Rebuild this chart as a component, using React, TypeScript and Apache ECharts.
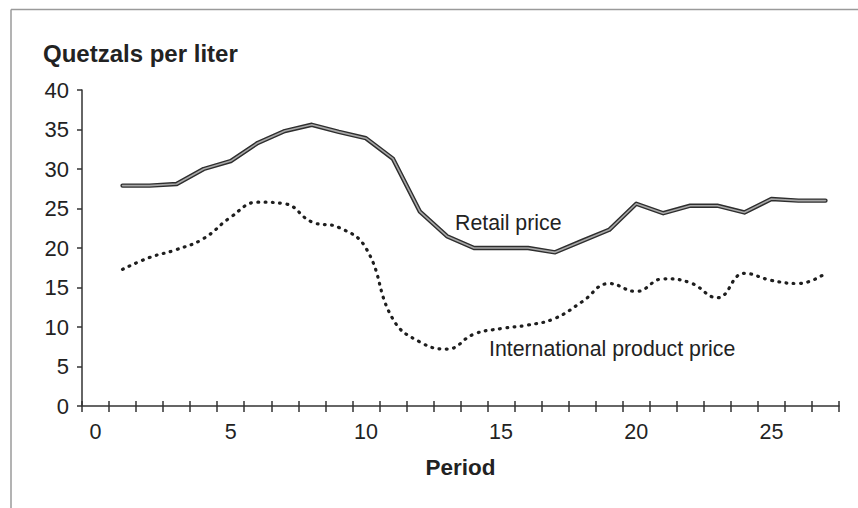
import React, { useEffect, useRef } from "react";
import * as echarts from "echarts";

const periods: string[] = Array.from({ length: 28 }, (_, i) => String(i));
const retailPrice: (number | null)[] = [
  null, 27.9, 27.9, 28.1, 30.0, 31.0, 33.3, 34.8, 35.6, 34.7, 33.9, 31.3, 24.6, 21.5,
  20.0, 20.0, 20.0, 19.45, 20.9, 22.3, 25.6, 24.4, 25.35, 25.35, 24.5, 26.2, 26.0, 26.0,
];
const internationalPrice: (number | null)[] = [
  null, 17.3, 18.8, 19.8, 21.2, 23.9, 25.8, 25.6, 23.3, 22.6, 20.0, 11.0, 8.1, 7.2,
  9.1, 9.8, 10.25, 11.1, 13.2, 15.5, 14.5, 16.1, 15.6, 13.7, 16.8, 15.9, 15.5, 16.8,
];
const yTitle = "Quetzals per liter";
const xTitle = "Period";
const retailLabel = "Retail price";
const intlLabel = "International product price";

const FONT = "'Liberation Sans', Arial, Helvetica, sans-serif";

export default function App() {
  const ref = useRef<HTMLDivElement>(null);
  useEffect(() => {
    if (!ref.current) return;
    const chart = echarts.init(ref.current, undefined, { renderer: "svg" });
    const axisColor = "#333";
    chart.setOption({
      animation: false,
      backgroundColor: "#fff",
      textStyle: { fontFamily: FONT },
      grid: { left: 82, right: 19, top: 90, bottom: 102 },
      xAxis: [
        {
          type: "category",
          data: periods,
          boundaryGap: true,
          position: "bottom",
          name: xTitle,
          nameLocation: "middle",
          nameGap: 50,
          nameTextStyle: { fontSize: 22.5, fontWeight: "bold", color: "#222", fontFamily: FONT },
          axisLine: { show: true, lineStyle: { color: axisColor, width: 1.5 } },
          axisTick: { show: true, interval: 0, length: 6, lineStyle: { color: axisColor, width: 1.5 } },
          axisLabel: { interval: 4, margin: 15, fontSize: 21.5, color: "#222", fontFamily: FONT },
          splitLine: { show: false },
        },
        {
          type: "category",
          data: periods,
          boundaryGap: true,
          position: "bottom",
          axisLine: { show: false },
          axisTick: { show: true, inside: true, interval: 0, length: 5, lineStyle: { color: axisColor, width: 1.5 } },
          axisLabel: { show: false },
          splitLine: { show: false },
        },
      ],
      yAxis: {
        type: "value",
        min: 0,
        max: 40,
        interval: 5,
        axisLine: { show: true, lineStyle: { color: axisColor, width: 1.5 } },
        axisTick: { show: true, length: 5, lineStyle: { color: axisColor, width: 1.5 } },
        axisLabel: { margin: 13, fontSize: 22, color: "#222", fontFamily: FONT },
        splitLine: { show: false },
      },
      graphic: [
        { type: "line", shape: { x1: 11, y1: 9.5, x2: 858, y2: 9.5 }, style: { stroke: "#9a9a9a", lineWidth: 1.5 } },
        { type: "line", shape: { x1: 11, y1: 9.5, x2: 11, y2: 508 }, style: { stroke: "#9a9a9a", lineWidth: 1.5 } },
        {
          type: "text", x: 43, y: 53.5,
          style: { text: yTitle, fontSize: 24, fontWeight: "bold", fill: "#222", fontFamily: FONT, verticalAlign: "middle", align: "left" },
        },
        {
          type: "text", x: 455, y: 222.5,
          style: { text: retailLabel, fontSize: 21.3, fill: "#222", fontFamily: FONT, verticalAlign: "middle", align: "left" },
        },
        {
          type: "text", x: 489, y: 349,
          style: { text: intlLabel, fontSize: 21.3, fill: "#222", fontFamily: FONT, verticalAlign: "middle", align: "left" },
        },
      ],
      series: [
        {
          name: intlLabel,
          type: "line",
          data: internationalPrice,
          smooth: 0.45,
          symbol: "none",
          lineStyle: { color: "#1e1e1e", width: 3.2, type: [0.8, 6.5], cap: "round" },
        },
        {
          name: retailLabel,
          type: "line",
          data: retailPrice,
          symbol: "none",
          lineStyle: { color: "#2e2e2e", width: 4.4, join: "round", cap: "round" },
        },
        {
          name: retailLabel + " inner",
          type: "line",
          data: retailPrice,
          symbol: "none",
          lineStyle: { color: "#a8a8a8", width: 1.6, join: "round", cap: "round" },
        },
      ],
    });
    return () => chart.dispose();
  }, []);
  return (
    <div
      ref={ref}
      style={{ position: "fixed", left: 0, top: 0, width: 858, height: 508, background: "#fff" }}
    />
  );
}
